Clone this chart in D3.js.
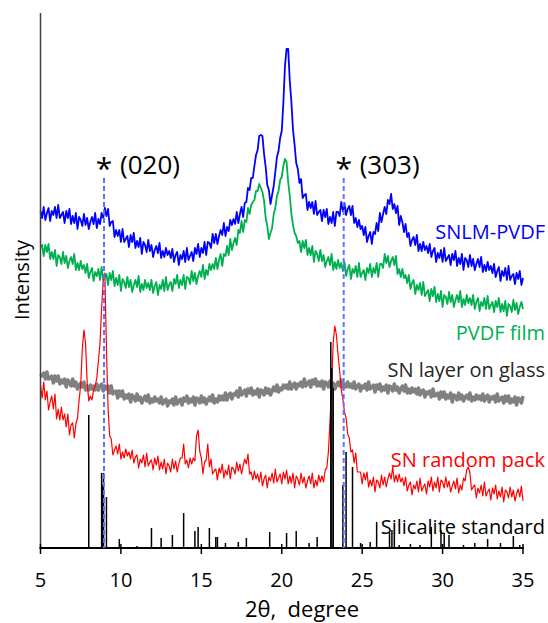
<!DOCTYPE html>
<html>
<head>
<meta charset="utf-8">
<script src="https://cdn.jsdelivr.net/npm/d3@7"></script>
<style>
  body { margin: 0; background: #fff; }
  svg { font-family: "Open Sans", "Noto Sans", sans-serif; }
</style>
</head>
<body>
<svg id="chart" width="548" height="623"></svg>
<script>
// 2-theta sampling grid: 5 to 35 degree in 0.1 steps
const angleStart = 5;
const angleStep = 0.1;

const snlmPvdf = [
	337, 330, 341, 328, 335, 340, 327, 337, 333, 341, 330, 343, 330, 333, 336, 325, 337, 330, 339, 324,
	332, 325, 335, 319, 331, 328, 322, 334, 323, 330, 319, 326, 331, 324, 335, 320, 329, 324, 335, 330,
	340, 332, 339, 322, 326, 327, 311, 318, 312, 318, 306, 319, 306, 309, 312, 301, 313, 306, 315, 300,
	307, 301, 310, 294, 306, 303, 296, 308, 297, 303, 291, 298, 302, 295, 305, 290, 297, 291, 300, 293,
	297, 290, 299, 286, 293, 296, 283, 293, 289, 297, 286, 300, 288, 292, 296, 287, 300, 294, 304, 291,
	300, 295, 306, 293, 306, 305, 300, 314, 305, 314, 304, 312, 318, 313, 325, 312, 321, 317, 328, 323,
	329, 324, 336, 325, 334, 341, 331, 345, 346, 360, 358, 370, 370, 382, 393, 398, 412, 413, 412, 394,
	381, 363, 358, 344, 353, 362, 376, 391, 397, 410, 417, 445, 482, 499, 499, 467, 446, 418, 403, 385,
	379, 365, 369, 350, 353, 354, 338, 346, 340, 346, 334, 347, 333, 336, 338, 327, 338, 331, 339, 324,
	331, 325, 336, 322, 336, 336, 332, 346, 337, 345, 333, 339, 342, 333, 342, 325, 330, 321, 328, 319,
	322, 313, 321, 306, 312, 316, 304, 316, 314, 325, 317, 335, 326, 334, 341, 334, 348, 344, 354, 339,
	344, 335, 342, 323, 332, 326, 316, 324, 311, 315, 302, 308, 311, 303, 313, 297, 304, 297, 306, 298,
	302, 295, 304, 291, 297, 300, 286, 295, 290, 298, 286, 300, 287, 290, 293, 283, 294, 288, 297, 282,
	290, 284, 294, 278, 290, 288, 281, 293, 282, 289, 278, 284, 289, 281, 291, 276, 283, 277, 286, 278,
	282, 275, 284, 271, 277, 281, 267, 277, 272, 280, 268, 282, 268, 272, 274, 264, 275, 269, 277, 263,
	270
];

const pvdfFilm = [
	301, 303, 292, 303, 296, 304, 289, 296, 289, 298, 282, 293, 291, 284, 296, 285, 292, 280, 287, 291,
	284, 294, 278, 285, 278, 287, 279, 283, 275, 284, 270, 276, 280, 267, 276, 272, 279, 268, 281, 268,
	271, 274, 263, 275, 268, 277, 262, 270, 263, 273, 257, 269, 266, 260, 271, 261, 268, 256, 263, 268,
	261, 272, 256, 264, 258, 268, 260, 265, 258, 268, 255, 262, 266, 253, 263, 259, 268, 257, 271, 258,
	263, 266, 257, 269, 264, 273, 260, 268, 263, 273, 259, 271, 270, 264, 277, 267, 275, 264, 272, 277,
	271, 283, 269, 278, 273, 284, 278, 284, 279, 290, 279, 288, 294, 282, 294, 292, 302, 293, 309, 298,
	305, 310, 303, 318, 315, 327, 316, 328, 326, 340, 334, 343, 346, 348, 357, 357, 364, 360, 356, 347,
	330, 322, 309, 315, 320, 334, 340, 352, 357, 368, 371, 382, 389, 386, 366, 352, 334, 323, 315, 312,
	305, 307, 296, 307, 300, 308, 293, 300, 293, 302, 286, 297, 294, 287, 298, 287, 293, 281, 287, 291,
	283, 294, 278, 286, 279, 288, 280, 285, 277, 286, 272, 279, 283, 269, 279, 275, 282, 271, 285, 271,
	275, 278, 268, 280, 275, 284, 271, 280, 275, 285, 271, 284, 284, 280, 294, 285, 292, 281, 287, 291,
	283, 292, 274, 279, 271, 279, 270, 273, 265, 273, 259, 265, 268, 254, 263, 258, 265, 253, 266, 252,
	255, 258, 247, 259, 252, 261, 246, 254, 247, 257, 241, 253, 251, 244, 256, 246, 253, 241, 248, 253,
	246, 257, 241, 249, 243, 253, 245, 250, 243, 253, 239, 246, 250, 237, 246, 242, 250, 239, 252, 239,
	243, 246, 236, 247, 241, 250, 236, 244, 237, 247, 232, 244, 242, 236, 248, 238, 245, 234, 241, 246,
	239
];

const snLayerGlass = [
	174, 172, 175, 169, 176, 169, 170, 172, 165, 172, 167, 172, 164, 168, 165, 169, 161, 168, 166, 162,
	169, 162, 166, 159, 163, 165, 161, 166, 158, 162, 158, 163, 159, 162, 158, 164, 158, 162, 164, 157,
	162, 159, 162, 155, 162, 154, 156, 157, 150, 157, 152, 157, 149, 153, 150, 154, 146, 153, 151, 147,
	154, 148, 151, 145, 149, 152, 147, 153, 145, 149, 146, 151, 147, 149, 145, 151, 144, 147, 149, 142,
	147, 145, 149, 143, 151, 144, 147, 149, 143, 150, 147, 152, 145, 149, 146, 151, 143, 150, 149, 145,
	152, 146, 150, 144, 148, 151, 147, 153, 145, 149, 146, 152, 148, 152, 148, 155, 148, 153, 155, 149,
	154, 153, 157, 151, 160, 153, 155, 158, 152, 159, 155, 160, 153, 157, 154, 159, 151, 158, 157, 153,
	160, 155, 159, 153, 157, 161, 157, 163, 156, 160, 158, 163, 160, 163, 159, 166, 159, 163, 165, 159,
	164, 162, 166, 161, 169, 162, 164, 167, 161, 168, 164, 169, 162, 166, 162, 167, 159, 166, 165, 161,
	167, 161, 165, 159, 163, 166, 162, 168, 160, 164, 161, 166, 161, 164, 160, 166, 159, 162, 164, 157,
	162, 160, 164, 158, 166, 159, 161, 163, 156, 163, 159, 164, 157, 161, 158, 163, 155, 162, 161, 157,
	164, 158, 161, 155, 159, 162, 157, 163, 155, 159, 155, 160, 156, 159, 154, 160, 153, 157, 158, 151,
	156, 154, 157, 151, 159, 152, 153, 155, 149, 156, 151, 156, 149, 153, 150, 155, 146, 153, 152, 148,
	155, 149, 153, 147, 151, 153, 149, 155, 147, 151, 148, 153, 149, 152, 148, 154, 147, 151, 153, 146,
	151, 149, 152, 146, 154, 147, 149, 151, 145, 152, 147, 152, 145, 149, 146, 151, 143, 150, 149, 145,
	152
];

const snRandomPack = [
	163, 150, 166, 148, 157, 138, 146, 152, 139, 154, 129, 139, 128, 141, 128, 134, 121, 134, 113, 123,
	125, 110, 124, 130, 148, 163, 199, 218, 205, 166, 147, 152, 148, 158, 162, 170, 187, 205, 240, 268,
	275, 200, 140, 112, 109, 93, 98, 102, 94, 104, 89, 96, 90, 99, 92, 96, 89, 98, 85, 91,
	93, 80, 89, 85, 93, 81, 95, 82, 86, 88, 78, 90, 83, 92, 78, 86, 79, 89, 74, 85,
	82, 76, 89, 79, 87, 76, 84, 90, 90, 104, 84, 88, 80, 90, 84, 90, 87, 112, 118, 97,
	90, 74, 86, 88, 104, 81, 89, 74, 77, 79, 68, 80, 75, 84, 70, 78, 73, 83, 69, 81,
	79, 74, 86, 77, 84, 74, 82, 89, 84, 94, 74, 76, 68, 77, 69, 74, 66, 76, 62, 69,
	73, 60, 71, 67, 75, 65, 79, 66, 70, 74, 64, 76, 69, 78, 64, 72, 65, 75, 60, 72,
	69, 63, 75, 65, 71, 60, 67, 72, 64, 75, 60, 68, 62, 73, 66, 72, 66, 78, 80, 96,
	126, 163, 206, 222, 213, 193, 177, 158, 149, 136, 130, 114, 110, 96, 98, 85, 95, 76, 76, 76,
	64, 75, 68, 76, 61, 68, 62, 71, 56, 68, 66, 60, 73, 63, 71, 61, 69, 75, 69, 81,
	66, 73, 66, 74, 66, 70, 62, 71, 57, 63, 66, 53, 63, 59, 67, 56, 70, 57, 61, 64,
	54, 67, 61, 71, 57, 66, 60, 71, 56, 68, 66, 60, 71, 61, 67, 56, 62, 67, 59, 70,
	55, 63, 58, 70, 67, 78, 81, 75, 58, 61, 63, 50, 60, 55, 63, 52, 66, 52, 56, 59,
	48, 60, 54, 63, 49, 57, 51, 61, 46, 58, 56, 50, 61, 51, 58, 47, 54, 59, 51, 62,
	47
];

// silicalite reference pattern: 2-theta and stick height
const silicaliteAngles = [8.0, 8.8, 8.85, 8.92, 9.1, 9.9, 11.0, 11.9, 12.5, 13.2, 13.9, 14.6, 14.8, 15.5, 15.9, 16.0,
	16.5, 17.3, 17.8, 19.25, 20.3, 20.9, 21.7, 22.2, 23.05, 23.12, 23.2, 23.8, 24.0, 24.4, 24.9, 25.5, 25.9,
	26.7, 26.85, 27.0, 27.3, 28.0, 28.6, 29.3, 29.9, 30.1, 30.4, 31.3, 32.0, 32.8, 33.6, 34.4, 34.8];
const silicaliteHeights = [133, 75, 63, 75, 51, 9, 2, 20, 10, 13, 35, 17, 21, 20, 11, 11,
	5, 6, 10, 16, 15, 17, 5, 11, 206, 180, 160, 63, 96, 81, 5, 6, 26,
	15, 18, 15, 3, 4, 3, 21, 18, 15, 13, 3, 5, 9, 5, 12, 3];

const reflectionAngles = [8.95, 23.85];
const reflectionLabels = ['(020)', '(303)'];
const xTicks = [5, 10, 15, 20, 25, 30, 35];

const series = [
	{ name: 'SNLM-PVDF', values: snlmPvdf, color: '#0000ff', width: 1.8, labelY: 232, labelColor: '#0000ff' },
	{ name: 'PVDF film', values: pvdfFilm, color: '#00b050', width: 1.8, labelY: 333, labelColor: '#00b050' },
	{ name: 'SN layer on glass', values: snLayerGlass, color: '#808080', width: 3.5, labelY: 370, labelColor: '#262626' },
	{ name: 'SN random pack', values: snRandomPack, color: '#ff0000', width: 1.2, labelY: 460, labelColor: '#ff0000' }
];

const svg = d3.select('#chart');

const x = d3.scaleLinear().domain([5, 35]).range([40.5, 523]);
const y = d3.scaleLinear().domain([0, 535]).range([548, 13]);

const line = d3.line()
	.x((d, i) => x(angleStart + i * angleStep))
	.y(d => y(d));

// patterns
series.forEach(s => {
	svg.append('path').datum(s.values)
		.attr('d', line)
		.attr('fill', 'none')
		.attr('stroke', s.color)
		.attr('stroke-width', s.width)
		.attr('stroke-linejoin', 'round');
});

// silicalite standard sticks
svg.append('g').selectAll('line')
	.data(silicaliteAngles)
	.join('line')
		.attr('x1', d => x(d)).attr('x2', d => x(d))
		.attr('y1', y(0))
		.attr('y2', (d, i) => y(silicaliteHeights[i]))
		.attr('stroke', '#000')
		.attr('stroke-width', 1.5);

// axes
svg.append('line')
	.attr('x1', x(5)).attr('x2', x(5))
	.attr('y1', y(0)).attr('y2', y(535))
	.attr('stroke', '#404040').attr('stroke-width', 1.5);

const xAxis = svg.append('g');
xAxis.append('line')
	.attr('x1', x(5) - 1).attr('x2', x(35) + 1)
	.attr('y1', y(0)).attr('y2', y(0))
	.attr('stroke', '#000').attr('stroke-width', 2);
xAxis.selectAll('line.tick')
	.data(xTicks)
	.join('line')
		.attr('class', 'tick')
		.attr('x1', d => x(d)).attr('x2', d => x(d))
		.attr('y1', y(0) - 4).attr('y2', y(0) + 6)
		.attr('stroke', '#000').attr('stroke-width', 1.5);
xAxis.selectAll('text')
	.data(xTicks)
	.join('text')
		.attr('x', d => x(d))
		.attr('y', 587)
		.attr('text-anchor', 'middle')
		.attr('font-size', 20)
		.attr('fill', '#000')
		.text(d => d);

svg.append('text')
	.attr('x', 302).attr('y', 617)
	.attr('text-anchor', 'middle')
	.attr('font-size', 22)
	.style('white-space', 'pre')
	.text('2θ,  degree');

svg.append('text')
	.attr('transform', 'translate(29,280) rotate(-90)')
	.attr('text-anchor', 'middle')
	.attr('font-size', 20)
	.text('Intensity');

// reflection markers
reflectionAngles.forEach((a, i) => {
	svg.append('line')
		.attr('x1', x(a)).attr('x2', x(a))
		.attr('y1', 178).attr('y2', y(0))
		.attr('stroke', '#6272ff')
		.attr('stroke-width', 2)
		.attr('stroke-dasharray', '5,3');
	svg.append('text')
		.attr('x', x(a)).attr('y', 179)
		.attr('text-anchor', 'middle')
		.attr('font-size', 30)
		.text('*');
	svg.append('text')
		.attr('x', x(a) + 16).attr('y', 174)
		.attr('font-size', 26)
		.text(reflectionLabels[i]);
});

// series labels
series.forEach(s => {
	svg.append('text')
		.attr('x', 545).attr('y', s.labelY + 7)
		.attr('text-anchor', 'end')
		.attr('font-size', 20)
		.attr('fill', s.labelColor)
		.text(s.name);
});
svg.append('text')
	.attr('x', 545).attr('y', 534)
	.attr('text-anchor', 'end')
	.attr('font-size', 20)
	.attr('fill', '#000')
	.text('Silicalite standard');
</script>
</body>
</html>
